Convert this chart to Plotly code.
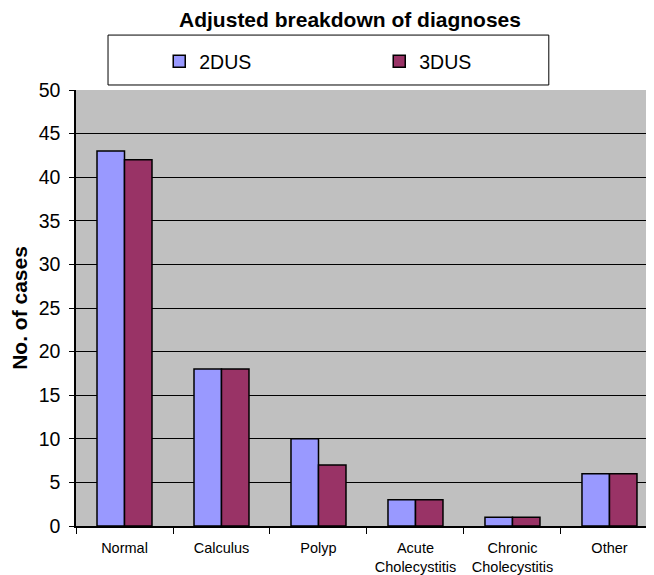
import plotly.graph_objects as go

categories = ["Normal", "Calculus", "Polyp", "Acute<br>Cholecystitis", "Chronic<br>Cholecystitis", "Other"]
series_2dus = [43, 18, 10, 3, 1, 6]
series_3dus = [42, 18, 7, 3, 1, 6]
y_ticks = [0, 5, 10, 15, 20, 25, 30, 35, 40, 45, 50]

fig = go.Figure()
fig.add_trace(go.Bar(name="2DUS", x=categories, y=series_2dus,
                     marker=dict(color="#9999FF", line=dict(color="black", width=1.5))))
fig.add_trace(go.Bar(name="3DUS", x=categories, y=series_3dus,
                     marker=dict(color="#993366", line=dict(color="black", width=1.5))))

# page has an 8px body margin; compensate
W, H = 646, 567
fig.update_layout(
    width=W, height=H,
    margin=dict(l=68, r=0, t=82, b=49),
    paper_bgcolor="white",
    plot_bgcolor="#C0C0C0",
    font=dict(family="Liberation Sans, Arial", color="black"),
    barmode="group",
    bargap=0.433,
    bargroupgap=0,
    title=dict(text="<b>Adjusted breakdown of diagnoses</b>", x=342 / W, xanchor="center",
               y=1 - 12 / H, yanchor="middle", font=dict(size=21, color="black")),
    showlegend=True,
    legend=dict(orientation="h", x=0.144, y=1.065, xanchor="left", yanchor="middle",
                bgcolor="rgba(0,0,0,0)", font=dict(size=19.5),
                entrywidth=175, entrywidthmode="pixels", itemwidth=30),
    shapes=[dict(type="rect", xref="paper", yref="paper", x0=0.0554, x1=0.818,
                 y0=1.0115, y1=1.126, line=dict(color="black", width=1), fillcolor="white",
                 layer="below")],
)
fig.update_yaxes(range=[0, 50], tickvals=y_ticks, showgrid=True, gridcolor="black", gridwidth=1,
                 showline=True, linecolor="black", linewidth=1.5, ticks="outside", ticklen=5,
                 tickcolor="black", tickfont=dict(size=19.5), zeroline=False, ticklabelstandoff=5,
                 title=dict(text="<b>No. of cases</b>", font=dict(size=21), standoff=6))
fig.update_xaxes(range=[-0.5, 5.459], showline=True, linecolor="black", linewidth=1.5,
                 ticks="outside", ticklen=6, tickcolor="black", tickson="boundaries",
                 tickfont=dict(size=14.5), showgrid=False, ticklabelstandoff=8)

fig.write_html("out.html")
